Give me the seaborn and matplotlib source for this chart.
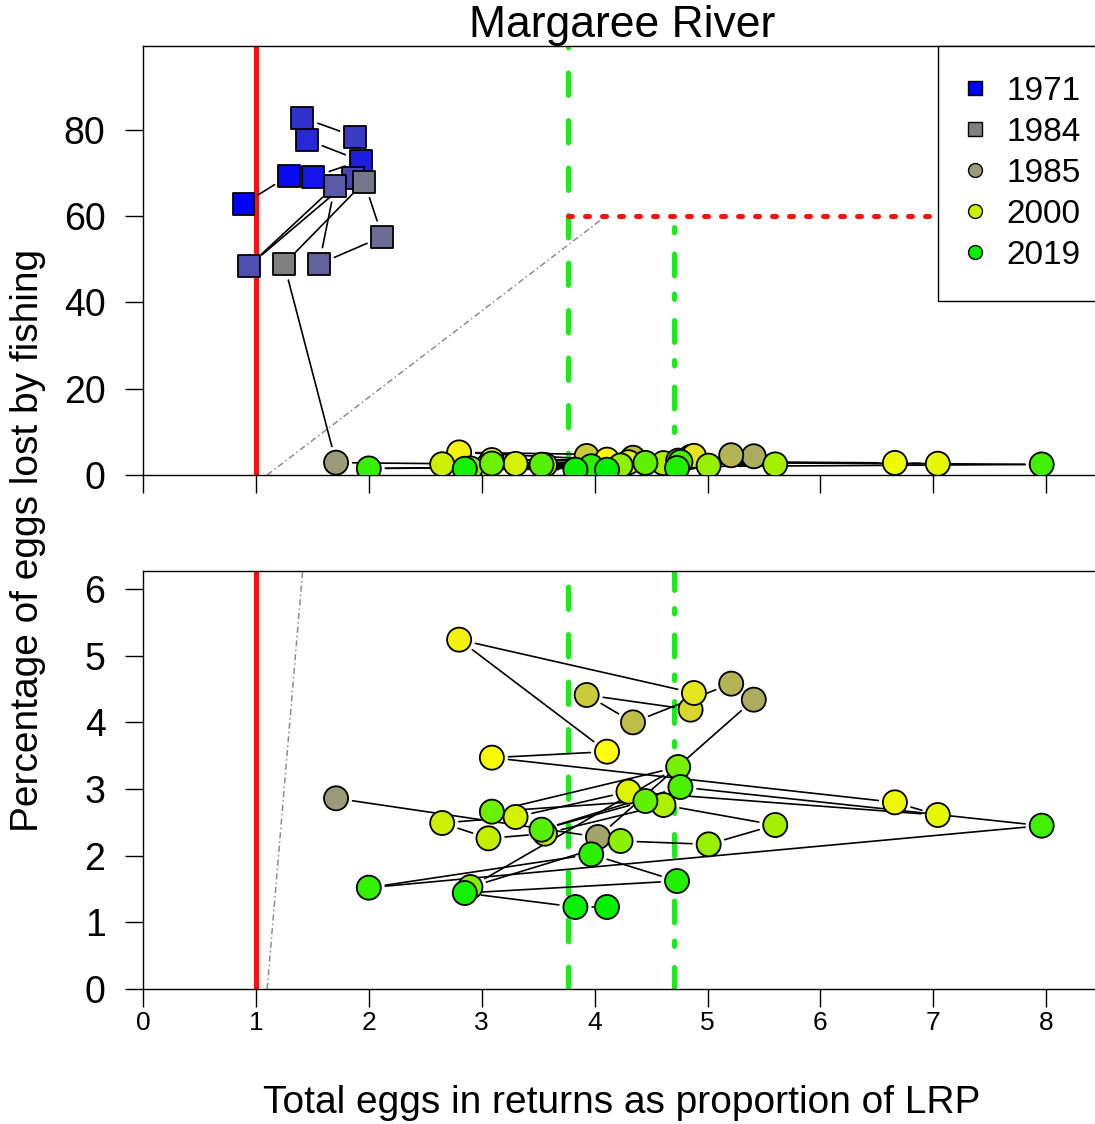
import numpy as np
import pandas as pd
import matplotlib
matplotlib.use("Agg")
import matplotlib.pyplot as plt
from matplotlib.colors import to_rgb, to_hex
from matplotlib.lines import Line2D
import seaborn as sns

# ---- data: one point per return year ----
years = list(range(1971, 2020))
eggs_prop = [0.89, 1.29, 1.51, 1.93, 1.45, 1.41, 1.88, 1.86, 0.94, 1.70,
             1.56, 2.12, 1.96, 1.25, 1.71, 4.03, 5.41, 5.21, 4.34, 3.93,
             4.85, 4.88, 2.80, 4.11, 3.09, 6.66, 7.04, 4.30, 3.30, 2.65,
             3.06, 3.56, 4.61, 5.60, 5.01, 4.23, 2.90, 4.74, 3.09, 4.45,
             3.53, 4.76, 7.96, 2.00, 3.97, 4.73, 2.85, 3.83, 4.11]
pct_lost = [62.8, 69.3, 69.1, 72.8, 77.7, 82.8, 78.4, 68.9, 48.5, 67.0,
            48.9, 55.2, 67.9, 48.9, 2.86, 2.28, 4.34, 4.58, 4.00, 4.41,
            4.19, 4.44, 5.24, 3.56, 3.47, 2.80, 2.61, 2.96, 2.58, 2.49,
            2.26, 2.33, 2.76, 2.46, 2.17, 2.22, 1.53, 3.33, 2.66, 2.82,
            2.39, 3.03, 2.45, 1.52, 2.02, 1.62, 1.44, 1.23, 1.23]

legend_years = [1971, 1984, 1985, 2000, 2019]

# reference points and colour ramp
lrp = 1.0
usr_dashed = 3.76
usr_dotdash = 4.70
removal_ref = 60
hcr_x = [1.1, 4.1]
hcr_y = [0, 60]
ramp_years = [1971, 1984, 1985, 1989, 1994, 2000, 2019]
ramp_cols = ["#0000ff", "#808080", "#9a9a78", "#bdbd48", "#ffff00", "#ccf000", "#00f000"]


def year_colour(yr):
    rgb = np.array([to_rgb(c) for c in ramp_cols])
    return to_hex([np.interp(yr, ramp_years, rgb[:, k]) for k in range(3)])


df = pd.DataFrame({"year": years, "eggs": eggs_prop, "lost": pct_lost})
df["shape"] = np.where(df["year"] <= 1984, "s", "o")
palette = {y: year_colour(y) for y in years}

sns.set_style("white")
plt.rcParams["font.family"] = ["Liberation Sans", "DejaVu Sans"]
for key in ("text.color", "axes.labelcolor", "xtick.color", "ytick.color"):
    plt.rcParams[key] = "black"

W, H = 1095, 1124
fig = plt.figure(figsize=(W / 100, H / 100), dpi=100)
x0_px, x1_px = 143, 1111
left, width = x0_px / W, (x1_px - x0_px) / W
ax_top = fig.add_axes([left, 1 - 475 / H, width, (475 - 46) / H])
ax_bot = fig.add_axes([left, 1 - 989 / H, width, (989 - 571) / H])

GREEN = "#1aec1a"
RED = "#ff1010"


def draw_panel(ax, data, ymax):
    ax.set_xlim(0, (x1_px - x0_px) / 112.9)
    ax.set_ylim(0, ymax)
    # reference lines
    ax.axvline(lrp, color=RED, lw=3.6, zorder=1)
    ax.plot([usr_dashed, usr_dashed], [0, 200], color=GREEN, lw=3.6,
            dashes=(4.5, 5), dash_capstyle="round", zorder=1)
    ax.plot([usr_dotdash, usr_dotdash], [0, removal_ref], color=GREEN, lw=3.6,
            dashes=(4.4, 4.2, 1.1, 3.6), dash_capstyle="round", zorder=1)
    ax.plot(hcr_x, hcr_y, color="#8c8c8c", lw=1.1, dashes=(4, 2, 1, 2), zorder=1)
    ax.plot([usr_dashed, 9], [removal_ref, removal_ref], color=RED, lw=3.6,
            dashes=(0.8, 2.6), dash_capstyle="round", zorder=1)
    # year-to-year path with gaps at each point
    data = data.reset_index(drop=True)
    for i in range(len(data) - 1):
        ann = ax.annotate("", xy=(data.eggs[i + 1], data.lost[i + 1]),
                          xytext=(data.eggs[i], data.lost[i]),
                          arrowprops=dict(arrowstyle="-", color="black", lw=1.2,
                                          shrinkA=12, shrinkB=12),
                          zorder=2)
        ann.arrow_patch.set_clip_path(ax.patch)
    for shape, size in (("s", 250), ("o", 300)):
        sub = data[data["shape"] == shape]
        if len(sub) == 0:
            continue
        sns.scatterplot(data=sub, x="eggs", y="lost", hue="year", palette=palette,
                        marker=shape, s=size, edgecolor="black", linewidth=1.3,
                        legend=False, ax=ax, zorder=3, clip_on=True)
    ax.set_xlabel("")
    ax.set_ylabel("")
    ax.set_xticks(range(0, 9))
    for sp in ax.spines.values():
        sp.set_color("black")
        sp.set_linewidth(1.0)
    ax.tick_params(axis="both", direction="out", length=13, width=1.0,
                   color="black", bottom=True, left=True)


draw_panel(ax_top, df, 99.4)
ax_top.set_yticks([0, 20, 40, 60, 80])
ax_top.tick_params(axis="x", labelbottom=False)
ax_top.tick_params(axis="y", labelsize=27, pad=14)

draw_panel(ax_bot, df[df["year"] >= 1985], 6.27)
ax_bot.set_yticks(range(0, 7))
ax_bot.tick_params(axis="y", labelsize=27, pad=14)
ax_bot.tick_params(axis="x", labelsize=19, pad=3)

handles = [Line2D([0], [0], marker="s" if y <= 1984 else "o", linestyle="",
                  markerfacecolor=palette[y], markeredgecolor="black",
                  markeredgewidth=1.0, markersize=10) for y in legend_years]
leg = ax_top.legend(handles, [str(y) for y in legend_years], loc="upper right",
                    fontsize=24, frameon=True, fancybox=False, framealpha=1,
                    borderaxespad=0, borderpad=0.9, labelspacing=0.3,
                    handlelength=0.4, handletextpad=0.75)
leg.get_frame().set_edgecolor("black")
leg.get_frame().set_linewidth(1.0)
leg.set_zorder(10)

fig.text(622 / W, 1 - 26 / H, "Margaree River", ha="center", va="center", fontsize=32)
fig.text(622 / W, 1 - 1103 / H, "Total eggs in returns as proportion of LRP",
         ha="center", va="center", fontsize=28)
fig.text(28 / W, 1 - 540 / H, "Percentage of eggs lost by fishing", rotation=90,
         ha="center", va="center", fontsize=28)

fig.savefig("out.png", dpi=100)
